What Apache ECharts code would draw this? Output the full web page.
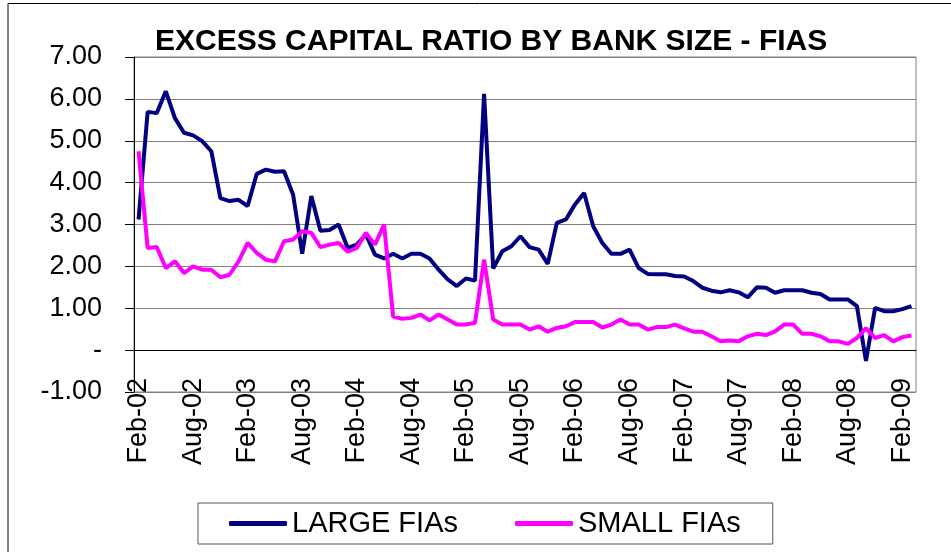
<!DOCTYPE html>
<html>
<head>
<meta charset="utf-8">
<script src="https://cdn.jsdelivr.net/npm/echarts@6/dist/echarts.min.js"></script>
<style>html,body{margin:0;padding:0;background:#fff;}#c{width:951px;height:552px;}</style>
</head>
<body>
<div id="c"></div>
<script>
const categories = [
  'Feb-02','Mar-02','Apr-02','May-02','Jun-02','Jul-02','Aug-02','Sep-02','Oct-02','Nov-02','Dec-02',
  'Jan-03','Feb-03','Mar-03','Apr-03','May-03','Jun-03','Jul-03','Aug-03','Sep-03','Oct-03','Nov-03','Dec-03',
  'Jan-04','Feb-04','Mar-04','Apr-04','May-04','Jun-04','Jul-04','Aug-04','Sep-04','Oct-04','Nov-04','Dec-04',
  'Jan-05','Feb-05','Mar-05','Apr-05','May-05','Jun-05','Jul-05','Aug-05','Sep-05','Oct-05','Nov-05','Dec-05',
  'Jan-06','Feb-06','Mar-06','Apr-06','May-06','Jun-06','Jul-06','Aug-06','Sep-06','Oct-06','Nov-06','Dec-06',
  'Jan-07','Feb-07','Mar-07','Apr-07','May-07','Jun-07','Jul-07','Aug-07','Sep-07','Oct-07','Nov-07','Dec-07',
  'Jan-08','Feb-08','Mar-08','Apr-08','May-08','Jun-08','Jul-08','Aug-08','Sep-08','Oct-08','Nov-08','Dec-08',
  'Jan-09','Feb-09','Mar-09'
];
const largeFIAs = [
  3.12,5.69,5.66,6.18,5.54,5.19,5.13,4.99,4.75,3.63,3.56,
  3.59,3.44,4.21,4.31,4.26,4.27,3.71,2.30,3.68,2.85,2.87,3.00,
  2.44,2.52,2.76,2.28,2.19,2.30,2.19,2.30,2.30,2.19,1.92,1.69,
  1.53,1.71,1.66,6.12,1.95,2.36,2.48,2.72,2.46,2.40,2.06,3.04,
  3.12,3.48,3.75,2.96,2.56,2.30,2.30,2.40,1.96,1.82,1.81,1.81,
  1.77,1.76,1.65,1.49,1.42,1.38,1.43,1.38,1.26,1.50,1.49,1.37,
  1.43,1.43,1.43,1.37,1.34,1.21,1.21,1.21,1.05,-0.26,1.01,0.93,
  0.93,0.98,1.05
];
const smallFIAs = [
  4.75,2.44,2.46,1.96,2.12,1.84,2.00,1.92,1.92,1.74,1.80,
  2.12,2.56,2.32,2.16,2.12,2.60,2.64,2.84,2.80,2.46,2.52,2.56,
  2.35,2.44,2.80,2.52,3.00,0.80,0.75,0.77,0.85,0.71,0.85,0.73,
  0.61,0.61,0.65,2.16,0.73,0.61,0.61,0.61,0.49,0.57,0.44,0.53,
  0.57,0.67,0.67,0.67,0.54,0.61,0.73,0.61,0.61,0.49,0.55,0.55,
  0.61,0.52,0.44,0.44,0.33,0.21,0.23,0.21,0.33,0.39,0.36,0.45,
  0.61,0.61,0.39,0.39,0.33,0.21,0.21,0.15,0.29,0.52,0.29,0.36,
  0.21,0.31,0.35
];
const yMin = -1, yMax = 7, yStep = 1;

const FONT = '"Liberation Sans", Arial, sans-serif';
const chart = echarts.init(document.getElementById('c'), null, {renderer: 'canvas'});
chart.setOption({
  animation: false,
  backgroundColor: '#fff',
  title: {
    text: 'EXCESS CAPITAL RATIO BY BANK SIZE - FIAS',
    left: 155, top: 27, padding: 0,
    textStyle: {fontFamily: FONT, fontSize: 30, fontWeight: 'bold', color: '#000'}
  },
  graphic: [
    {type: 'line', shape: {x1: 8, y1: 3.5, x2: 951, y2: 3.5}, style: {stroke: '#000', lineWidth: 1}, silent: true},
    {type: 'line', shape: {x1: 8, y1: 3.5, x2: 8, y2: 552}, style: {stroke: '#000', lineWidth: 1}, silent: true}
  ],
  legend: {
    left: 198, top: 503,
    padding: [6, 32, 6, 31],
    itemGap: 57, itemWidth: 58, itemHeight: 5,
    icon: 'roundRect',
    borderColor: '#555', borderWidth: 1,
    textStyle: {fontFamily: FONT, fontSize: 29, color: '#000'},
    data: ['LARGE FIAs', 'SMALL FIAs']
  },
  grid: {
    left: 134, right: 35, top: 57, bottom: 160,
    show: true, borderColor: '#808080', borderWidth: 1
  },
  xAxis: {
    type: 'category',
    data: categories,
    boundaryGap: true,
    axisLine: {onZero: true, lineStyle: {color: '#000', width: 1}},
    axisTick: {interval: 5, length: 9, lineStyle: {color: '#000'}},
    axisLabel: {interval: 5, rotate: 90, margin: -14, fontFamily: FONT, fontSize: 27, color: '#000'},
    splitLine: {show: false}
  },
  yAxis: {
    type: 'value',
    min: yMin, max: yMax, interval: yStep,
    axisLine: {show: true, lineStyle: {color: '#000', width: 1}},
    axisTick: {show: true, length: 9, lineStyle: {color: '#000'}},
    axisLabel: {
      margin: 32, fontFamily: FONT, fontSize: 27, color: '#000',
      formatter: v => (v === 0 ? '-' : v.toFixed(2))
    },
    splitLine: {show: true, lineStyle: {color: '#808080', width: 1}}
  },
  series: [
    {
      name: 'LARGE FIAs', type: 'line', data: largeFIAs,
      symbol: 'none', smooth: false,
      lineStyle: {color: '#000080', width: 4},
      itemStyle: {color: '#000080'}
    },
    {
      name: 'SMALL FIAs', type: 'line', data: smallFIAs,
      symbol: 'none', smooth: false,
      lineStyle: {color: '#FF00FF', width: 4},
      itemStyle: {color: '#FF00FF'}
    }
  ]
});
</script>
</body>
</html>
